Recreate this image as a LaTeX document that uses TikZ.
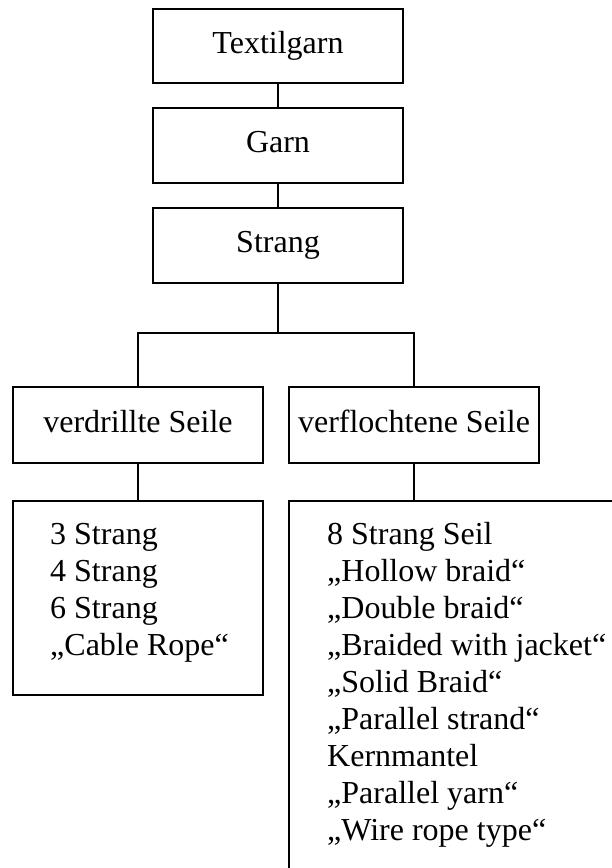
\documentclass[tikz,border=0pt]{standalone}
\usepackage{fontspec}
\setmainfont{Liberation Serif}
\begin{document}
\begin{tikzpicture}[x=1pt, y=-1pt,
  every node/.style={font=\fontsize{32}{37}\selectfont},
  levelbox/.style={draw, line width=2.8pt, minimum width=250pt, minimum height=75pt,
    text height=22.4pt, text depth=8pt, inner sep=0pt, outer sep=0pt},
  listframe/.style={draw, line width=2.8pt, inner sep=0pt, outer sep=0pt, anchor=north west},
  items/.style={align=left, anchor=north west, inner sep=0pt},
  link/.style={line width=2.8pt}]
\clip (0,0) rectangle (612,868);
\fill[white] (0,0) rectangle (612,868);

% hierarchy boxes
\node[levelbox, minimum height=74pt] (textil) at (278,46) {Textilgarn};
\node[levelbox] (garn) at (278,145.5) {Garn};
\node[levelbox] (strang) at (278,245.5) {Strang};
\node[levelbox, minimum height=76pt] (twist) at (138,425) {verdrillte Seile};
\node[levelbox, minimum height=76pt] (braid) at (414,425) {verflochtene Seile};

% lists of rope types
\node[listframe, minimum width=250pt, minimum height=194pt] (twistlist) at (13,501) {};
\node[listframe, minimum width=340pt, minimum height=400pt] (braidlist) at (289,501) {};
\node[items] (twistitems) at (50,523.5) {3 Strang\\4 Strang\\6 Strang\\„Cable Rope“};
\node[items] (braiditems) at (327,522) {8 Strang Seil\\„Hollow braid“\\„Double braid“\\„Braided with jacket“\\„Solid Braid“\\„Parallel strand“\\Kernmantel\\„Parallel yarn“\\„Wire rope type“};

% connectors
\coordinate (split) at (278,333);
\draw[link] (textil.south) -- (garn.north);
\draw[link] (garn.south) -- (strang.north);
\draw[link] (strang.south) -- (split);
\draw[link] (twist.north) |- (split) -| (braid.north);
\draw[link] (twist.south) -- (twistlist.north);
\draw[link] (braid.south) -- (braid.south |- braidlist.north);
\end{tikzpicture}
\end{document}
